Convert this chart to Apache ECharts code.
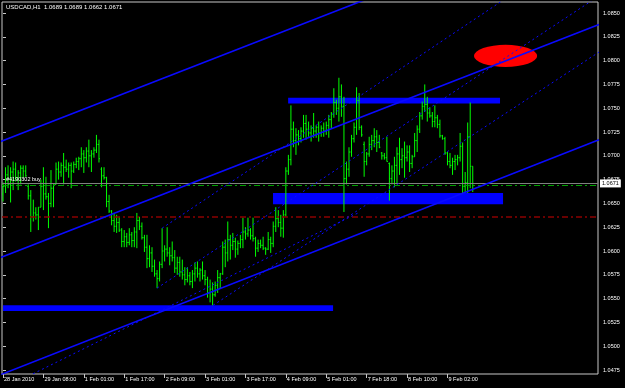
<!DOCTYPE html>
<html>
<head>
<meta charset="utf-8">
<script src="https://cdn.jsdelivr.net/npm/echarts@6/dist/echarts.min.js"></script>
<style>
  html, body { margin: 0; padding: 0; background: #000; }
  #chart { width: 625px; height: 388px; }
</style>
</head>
<body>
<div id="chart"></div>
<script>
const symbolTitle = "USDCAD,H1  1.0689 1.0689 1.0662 1.0671";

// time labels, one every 16 hourly bars
const timeLabels = ["28 Jan 2010", "29 Jan 08:00", "1 Feb 01:00", "1 Feb 17:00", "2 Feb 09:00", "3 Feb 01:00",
  "3 Feb 17:00", "4 Feb 09:00", "5 Feb 01:00", "7 Feb 18:00", "8 Feb 10:00", "9 Feb 02:00"];
const barsPerLabel = 16;

const priceTicks = [1.0475, 1.0500, 1.0525, 1.0550, 1.0575, 1.0600, 1.0625, 1.0650,
  1.0675, 1.0700, 1.0725, 1.0750, 1.0775, 1.0800, 1.0825, 1.0850];

// H1 bars
const opens = [1.0660,1.0668,1.0680,1.0670,1.0683,1.0686,1.0677,1.0682,1.0687,1.0684,1.0668,1.0658,1.0636,1.0640,1.0638,1.0646,1.0668,1.0660,1.0657,1.0650,
  1.0666,1.0670,1.0686,1.0683,1.0690,1.0688,1.0686,1.0690,1.0684,1.0691,1.0694,1.0697,1.0702,1.0698,1.0705,1.0700,1.0702,1.0706,1.0712,1.0686,
  1.0679,1.0677,1.0652,1.0642,1.0632,1.0626,1.0630,1.0622,1.0610,1.0615,1.0609,1.0617,1.0611,1.0620,1.0632,1.0626,1.0614,1.0604,1.0592,1.0598,
  1.0584,1.0576,1.0571,1.0586,1.0600,1.0602,1.0598,1.0595,1.0593,1.0582,1.0588,1.0578,1.0575,1.0570,1.0574,1.0568,1.0576,1.0582,1.0576,1.0580,
  1.0574,1.0570,1.0556,1.0560,1.0554,1.0564,1.0572,1.0576,1.0604,1.0598,1.0612,1.0606,1.0610,1.0602,1.0608,1.0612,1.0620,1.0618,1.0622,1.0616,
  1.0613,1.0603,1.0608,1.0606,1.0603,1.0602,1.0612,1.0608,1.0626,1.0634,1.0630,1.0624,1.0638,1.0684,1.0696,1.0728,1.0716,1.0722,1.0718,1.0726,
  1.0734,1.0728,1.0724,1.0729,1.0726,1.0730,1.0724,1.0729,1.0726,1.0732,1.0738,1.0744,1.0756,1.0750,1.0762,1.0752,1.0676,1.0686,1.0704,1.0718,
  1.0730,1.0758,1.0730,1.0712,1.0694,1.0702,1.0712,1.0716,1.0720,1.0714,1.0703,1.0700,1.0698,1.0692,1.0676,1.0684,1.0690,1.0702,1.0696,1.0700,
  1.0698,1.0704,1.0692,1.0699,1.0716,1.0728,1.0742,1.0752,1.0754,1.0745,1.0742,1.0736,1.0740,1.0733,1.0721,1.0718,1.0703,1.0694,1.0690,1.0694,
  1.0696,1.0698,1.0710,1.0668,1.0672,1.0720,1.0689];
const highs = [1.0672,1.0688,1.0690,1.0688,1.0694,1.0693,1.0685,1.0690,1.0690,1.0690,1.0670,1.0664,1.0654,1.0646,1.0646,1.0675,1.0688,1.0678,1.0661,1.0685,
  1.0670,1.0693,1.0694,1.0693,1.0703,1.0696,1.0693,1.0693,1.0694,1.0698,1.0699,1.0709,1.0706,1.0709,1.0717,1.0706,1.0709,1.0722,1.0717,1.0688,
  1.0688,1.0678,1.0659,1.0643,1.0640,1.0638,1.0636,1.0624,1.0622,1.0619,1.0624,1.0620,1.0625,1.0640,1.0636,1.0630,1.0617,1.0617,1.0606,1.0604,
  1.0591,1.0580,1.0589,1.0624,1.0606,1.0625,1.0604,1.0610,1.0601,1.0594,1.0594,1.0591,1.0583,1.0583,1.0578,1.0580,1.0588,1.0589,1.0582,1.0589,
  1.0580,1.0573,1.0570,1.0567,1.0568,1.0580,1.0577,1.0610,1.0612,1.0631,1.0617,1.0619,1.0614,1.0611,1.0617,1.0635,1.0625,1.0635,1.0624,1.0635,
  1.0615,1.0612,1.0612,1.0615,1.0604,1.0620,1.0615,1.0631,1.0646,1.0643,1.0638,1.0643,1.0688,1.0701,1.0753,1.0736,1.0729,1.0727,1.0730,1.0743,
  1.0743,1.0736,1.0732,1.0745,1.0732,1.0736,1.0732,1.0735,1.0736,1.0743,1.0746,1.0771,1.0759,1.0782,1.0775,1.0762,1.0694,1.0709,1.0722,1.0735,
  1.0772,1.0766,1.0732,1.0715,1.0704,1.0720,1.0722,1.0729,1.0727,1.0722,1.0704,1.0703,1.0720,1.0693,1.0690,1.0699,1.0709,1.0719,1.0708,1.0715,
  1.0711,1.0711,1.0701,1.0724,1.0732,1.0746,1.0757,1.0775,1.0762,1.0751,1.0746,1.0753,1.0743,1.0738,1.0722,1.0720,1.0704,1.0703,1.0698,1.0701,
  1.0701,1.0724,1.0714,1.0683,1.0735,1.0756,1.0689];
const lows = [1.0652,1.0661,1.0666,1.0651,1.0664,1.0673,1.0664,1.0670,1.0677,1.0678,1.0654,1.0620,1.0631,1.0633,1.0622,1.0646,1.0643,1.0654,1.0624,1.0646,
  1.0646,1.0670,1.0675,1.0678,1.0670,1.0683,1.0677,1.0666,1.0682,1.0687,1.0685,1.0688,1.0682,1.0693,1.0688,1.0683,1.0698,1.0703,1.0693,1.0667,
  1.0675,1.0646,1.0640,1.0627,1.0620,1.0619,1.0620,1.0604,1.0604,1.0604,1.0606,1.0604,1.0604,1.0603,1.0622,1.0612,1.0599,1.0582,1.0583,1.0578,
  1.0573,1.0561,1.0568,1.0582,1.0589,1.0594,1.0585,1.0589,1.0577,1.0575,1.0573,1.0570,1.0564,1.0567,1.0564,1.0561,1.0568,1.0572,1.0568,1.0570,
  1.0564,1.0551,1.0546,1.0543,1.0552,1.0556,1.0561,1.0575,1.0583,1.0589,1.0591,1.0601,1.0593,1.0596,1.0603,1.0603,1.0612,1.0615,1.0612,1.0610,
  1.0594,1.0599,1.0603,1.0601,1.0596,1.0601,1.0598,1.0604,1.0620,1.0625,1.0615,1.0614,1.0636,1.0680,1.0690,1.0709,1.0701,1.0711,1.0714,1.0719,
  1.0717,1.0720,1.0715,1.0719,1.0719,1.0715,1.0720,1.0720,1.0722,1.0719,1.0729,1.0740,1.0743,1.0736,1.0741,1.0641,1.0670,1.0678,1.0699,1.0714,
  1.0722,1.0727,1.0720,1.0678,1.0690,1.0699,1.0706,1.0709,1.0704,1.0708,1.0696,1.0696,1.0694,1.0653,1.0670,1.0667,1.0670,1.0680,1.0687,1.0677,
  1.0694,1.0683,1.0687,1.0699,1.0704,1.0724,1.0738,1.0746,1.0736,1.0740,1.0730,1.0730,1.0729,1.0719,1.0717,1.0701,1.0690,1.0687,1.0680,1.0685,
  1.0690,1.0694,1.0661,1.0661,1.0661,1.0666,1.0662];
const closes = [1.0668,1.0680,1.0670,1.0683,1.0686,1.0677,1.0682,1.0687,1.0684,1.0679,1.0658,1.0636,1.0640,1.0638,1.0646,1.0668,1.0660,1.0657,1.0650,1.0666,
  1.0670,1.0686,1.0683,1.0690,1.0688,1.0686,1.0690,1.0684,1.0691,1.0694,1.0697,1.0702,1.0698,1.0705,1.0700,1.0702,1.0706,1.0712,1.0697,1.0679,
  1.0677,1.0652,1.0642,1.0632,1.0626,1.0630,1.0622,1.0610,1.0615,1.0609,1.0617,1.0611,1.0620,1.0632,1.0626,1.0614,1.0604,1.0592,1.0598,1.0584,
  1.0576,1.0571,1.0586,1.0600,1.0602,1.0598,1.0595,1.0593,1.0582,1.0588,1.0578,1.0575,1.0570,1.0574,1.0568,1.0576,1.0582,1.0576,1.0580,1.0574,
  1.0570,1.0556,1.0560,1.0554,1.0564,1.0572,1.0576,1.0604,1.0598,1.0612,1.0606,1.0610,1.0602,1.0608,1.0612,1.0620,1.0618,1.0622,1.0616,1.0613,
  1.0603,1.0608,1.0606,1.0603,1.0602,1.0612,1.0608,1.0626,1.0634,1.0630,1.0624,1.0638,1.0684,1.0696,1.0728,1.0716,1.0722,1.0718,1.0726,1.0734,
  1.0728,1.0724,1.0729,1.0726,1.0730,1.0724,1.0729,1.0726,1.0732,1.0738,1.0744,1.0756,1.0750,1.0762,1.0752,1.0676,1.0686,1.0704,1.0718,1.0730,
  1.0758,1.0730,1.0722,1.0694,1.0702,1.0712,1.0716,1.0720,1.0714,1.0709,1.0700,1.0698,1.0694,1.0676,1.0684,1.0690,1.0702,1.0696,1.0700,1.0698,
  1.0704,1.0692,1.0699,1.0716,1.0728,1.0742,1.0752,1.0754,1.0745,1.0742,1.0736,1.0740,1.0733,1.0721,1.0718,1.0703,1.0694,1.0690,1.0694,1.0696,
  1.0698,1.0710,1.0668,1.0672,1.0720,1.0689,1.0671];

// horizontal price levels
const bidPrice = 1.0671;
const orderPrice = 1.0669;
const orderText = "#4190302 buy";
const stopPrice = 1.0636;

// chart objects, in bar index / price
const rectangles = [   // [fromBar, toBar, topPrice, bottomPrice]
  [112.9, 196.8, 1.0761, 1.0755],
  [106.9, 198.0, 1.0661, 1.0649],
  [0.0, 130.7, 1.0543, 1.0537]
];
const solidLines = [   // [bar1, price1, bar2, price2]
  [-1, 1.0715, 145.3, 1.0866],
  [-1, 1.0593, 236, 1.0838],
  [-1, 1.0470, 236, 1.0717]
];
const dottedLines = [
  [63.0, 1.0624, 200, 1.0867],
  [61.0, 1.0561, 236, 1.0868],
  [83.2, 1.0543, 236, 1.0809],
  [11.9, 1.0471, 141.4, 1.0641]
];
const ellipse = [199.0, 1.0805, 12.5, 0.00116]; // centre bar, centre price, half width (bars), half height (price)

const font = "Liberation Sans";
const chart = echarts.init(document.getElementById("chart"));
const barRows = opens.map((o, i) => [i, o, highs[i], lows[i], closes[i]]);
const tickBars = timeLabels.map((t, i) => i * barsPerLabel);

const lineSeries = (list, style) => list.map(l => ({
  type: "line",
  data: [[l[0], l[1]], [l[2], l[3]]],
  symbol: "none",
  silent: true,
  z: 5,
  lineStyle: style
}));

chart.setOption({
  backgroundColor: "#000000",
  animation: false,
  title: {
    text: symbolTitle,
    left: 6,
    top: 4,
    padding: 0,
    textStyle: { color: "#ffffff", fontSize: 6, fontWeight: "normal", fontFamily: font }
  },
  grid: {
    left: 2,
    top: 2,
    right: 27,
    bottom: 14,
    show: true,
    borderColor: "#c8c8c8",
    borderWidth: 1
  },
  xAxis: {
    type: "value",
    min: -0.4,
    max: 235.6,
    axisLine: { show: false },
    splitLine: { show: false },
    axisTick: { show: true, customValues: tickBars, length: 4, lineStyle: { color: "#c8c8c8" } },
    axisLabel: {
      customValues: tickBars,
      formatter: v => timeLabels[Math.round(v / barsPerLabel)],
      align: "left",
      margin: 2,
      padding: [0, 0, 0, 1],
      color: "#ffffff",
      fontSize: 5.5,
      fontFamily: font
    }
  },
  yAxis: {
    type: "value",
    position: "right",
    min: 1.04708,
    max: 1.08616,
    axisLine: { show: false },
    splitLine: { show: false },
    axisTick: { show: true, customValues: priceTicks, length: 3, lineStyle: { color: "#c8c8c8" } },
    axisLabel: {
      customValues: priceTicks,
      formatter: v => v.toFixed(4),
      margin: 5,
      color: "#ffffff",
      fontSize: 5.5,
      fontFamily: font
    }
  },
  series: [
    {
      type: "custom",
      silent: true,
      z: 1,
      data: rectangles,
      encode: { x: [0, 1], y: [2, 3] },
      renderItem(params, api) {
        const a = api.coord([api.value(0), api.value(2)]);
        const b = api.coord([api.value(1), api.value(3)]);
        return {
          type: "rect",
          shape: { x: a[0], y: a[1], width: b[0] - a[0], height: b[1] - a[1] },
          style: { fill: "#0000ff" }
        };
      }
    },
    {
      type: "custom",
      silent: true,
      z: 1,
      data: [ellipse],
      encode: { x: 0, y: 1 },
      renderItem(params, api) {
        const c = api.coord([api.value(0), api.value(1)]);
        const e = api.coord([api.value(0) + api.value(2), api.value(1) + api.value(3)]);
        const rx = e[0] - c[0];
        const ry = c[1] - e[1];
        return {
          type: "circle",
          x: c[0],
          y: c[1],
          scaleY: ry / rx,
          shape: { cx: 0, cy: 0, r: rx },
          style: { fill: "#ff0000" }
        };
      }
    },
    {
      type: "custom",
      silent: true,
      z: 3,
      data: barRows,
      encode: { x: 0, y: [1, 2, 3, 4] },
      renderItem(params, api) {
        const x = api.value(0);
        const o = api.coord([x, api.value(1)]);
        const h = api.coord([x, api.value(2)]);
        const l = api.coord([x, api.value(3)]);
        const c = api.coord([x, api.value(4)]);
        const st = { stroke: "#00ff00", lineWidth: 1 };
        return {
          type: "group",
          children: [
            { type: "line", shape: { x1: h[0], y1: h[1], x2: l[0], y2: l[1] }, style: st },
            { type: "line", shape: { x1: o[0] - 1, y1: o[1], x2: o[0], y2: o[1] }, style: st },
            { type: "line", shape: { x1: c[0], y1: c[1], x2: c[0] + 1, y2: c[1] }, style: st }
          ]
        };
      }
    },
    {
      type: "line",
      data: [],
      silent: true,
      z: 4,
      markLine: {
        silent: true,
        precision: 5,
        symbol: ["none", "none"],
        animation: false,
        data: [
          {
            yAxis: stopPrice,
            lineStyle: { color: "#8c0000", width: 1.5, type: [6, 3, 2, 3] },
            label: { show: false }
          },
          {
            yAxis: orderPrice,
            lineStyle: { color: "#00a000", width: 1, type: [6, 3, 2, 3] },
            label: {
              show: true,
              position: "insideStartTop",
              formatter: orderText,
              distance: [4, 3],
              color: "#ffffff",
              fontSize: 5.5,
              fontFamily: font
            }
          },
          {
            yAxis: bidPrice,
            lineStyle: { color: "#808080", width: 1, type: "solid" },
            label: {
              show: true,
              position: "end",
              formatter: bidPrice.toFixed(4),
              distance: 2,
              color: "#000000",
              backgroundColor: "#ffffff",
              padding: [1, 2, 1, 2],
              fontSize: 5.5,
              fontFamily: font
            }
          }
        ]
      }
    },
    ...lineSeries(solidLines, { color: "#0a0aff", width: 1.6, type: "solid" }),
    ...lineSeries(dottedLines, { color: "#0a0aff", width: 1, type: [2, 3] })
  ]
});
</script>
</body>
</html>
